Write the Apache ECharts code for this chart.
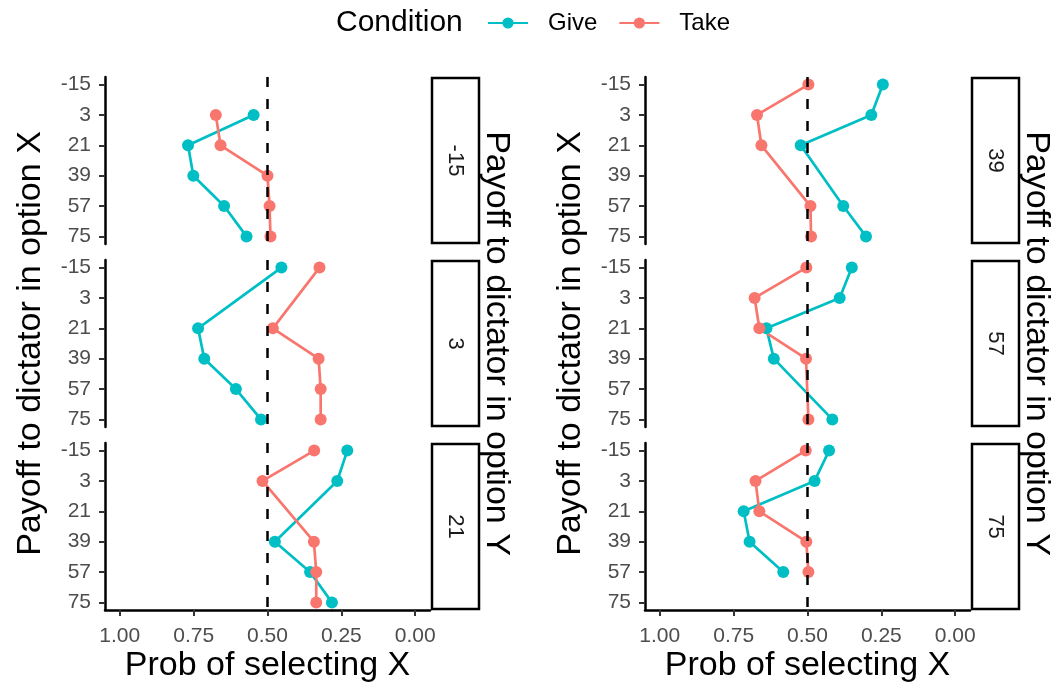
<!DOCTYPE html>
<html>
<head>
<meta charset="utf-8">
<script src="https://cdn.jsdelivr.net/npm/echarts@6/dist/echarts.min.js"></script>
<style>
  html, body { margin: 0; padding: 0; background: #fff; }
  #chart { width: 1055px; height: 688px; }
</style>
</head>
<body>
<div id="chart"></div>
<script>
// payoff to dictator in option X (y axis) and facet values (option Y)
var payoffs = [-15, 3, 21, 39, 57, 75];
var facets = ['-15', '3', '21', '39', '57', '75'];

// prob of selecting X, one value per payoff; null where X == Y
var give_m15 = [null, 0.547, 0.769, 0.751, 0.647, 0.571];
var give_3   = [0.453, null, 0.735, 0.714, 0.607, 0.522];
var give_21  = [0.230, 0.264, null, 0.475, 0.356, 0.282];
var give_39  = [0.245, 0.284, 0.523, null, 0.379, 0.302];
var give_57  = [0.350, 0.391, 0.639, 0.614, null, 0.416];
var give_75  = [0.427, 0.476, 0.716, 0.696, 0.582, null];

var take_m15 = [null, 0.675, 0.659, 0.500, 0.493, 0.490];
var take_3   = [0.324, null, 0.482, 0.327, 0.320, 0.320];
var take_21  = [0.342, 0.517, null, 0.343, 0.335, 0.335];
var take_39  = [0.497, 0.671, 0.656, null, 0.490, 0.488];
var take_57  = [0.504, 0.679, 0.663, 0.505, null, 0.497];
var take_75  = [0.506, 0.676, 0.663, 0.504, 0.497, null];

var giveAll = [give_m15, give_3, give_21, give_39, give_57, give_75];
var takeAll = [take_m15, take_3, take_21, take_39, take_57, take_75];

var FONT = "'Liberation Sans', Arial, sans-serif";
var GIVE = '#00BFC4', TAKE = '#F8766D';

var colLeft = [105, 645];
var rowTop = [77, 260, 443];
var panelW = 325, panelH = 167;

// ggplot-style expanded ranges
var X_LO = -0.05, X_HI = 1.05, Y_LO = -19.5, Y_HI = 79.5;

function pts(arr) {
    var out = [];
    arr.forEach(function (v, i) {
        if (v !== null) out.push([v, payoffs[i]]);
    });
    return out;
}

function buildOption(full) {
    var grids = [], xAxes = [], yAxes = [], series = [], graphics = [];
    var lab = { fontSize: 21, color: '#4D4D4D', fontFamily: FONT };
    var tick = { color: '#333', width: 2 };
    var line = { color: '#000', width: 2.5 };
    var hiddenCat = { type: 'category', data: [''], show: false };

    // frame grids 0..5 : full panel, axis lines + data
    for (var k = 0; k < 6; k++) {
        var col = Math.floor(k / 3), row = k % 3;
        var left = colLeft[col], top = rowTop[row], bottom = row === 2;
        grids.push({ left: left, top: top, width: panelW, height: panelH });
        xAxes.push({
            type: 'value', gridIndex: k, inverse: true, min: X_LO, max: X_HI,
            axisLine: { show: bottom, onZero: false, lineStyle: line },
            axisTick: { show: false }, axisLabel: { show: false }, splitLine: { show: false }
        });
        yAxes.push({
            type: 'value', gridIndex: k, inverse: true, min: Y_LO, max: Y_HI,
            axisLine: { show: true, onZero: false, lineStyle: line },
            axisTick: { show: false }, axisLabel: { show: false }, splitLine: { show: false }
        });

        series.push({
            name: 'Give', type: 'line', xAxisIndex: k, yAxisIndex: k,
            data: pts(giveAll[k]),
            color: GIVE, symbol: 'circle', symbolSize: 12,
            lineStyle: { width: 2.7 },
            markLine: {
                silent: true, symbol: 'none',
                label: { show: false },
                lineStyle: { color: '#000', width: 2.5, type: [10, 12] },
                data: [{ xAxis: 0.5 }]
            }
        });
        series.push({
            name: 'Take', type: 'line', xAxisIndex: k, yAxisIndex: k,
            data: pts(takeAll[k]),
            color: TAKE, symbol: 'circle', symbolSize: 12,
            lineStyle: { width: 2.7 }
        });

        // facet strip
        var sx = left + panelW + 2, sy = top + 1, sw = 47, sh = panelH - 2;
        graphics.push({
            type: 'rect', shape: { x: sx, y: sy, width: sw, height: sh },
            style: { fill: '#fff', stroke: '#000', lineWidth: 2.5 }
        });
        graphics.push({
            type: 'text', x: sx + sw / 2, y: sy + sh / 2, rotation: -Math.PI / 2,
            style: { text: facets[k], fontSize: 22, fill: '#1A1A1A', fontFamily: FONT, align: 'center', verticalAlign: 'middle' }
        });
    }

    if (full) {
        // tick grids: each spans exactly the tick range along its axis,
        // paired with a hidden category axis so the tick axis stays on the frame edge
        var padX = panelW * (0 - X_LO) / (X_HI - X_LO);
        var innerW = panelW * 1 / (X_HI - X_LO);
        var padY = panelH * (-15 - Y_LO) / (Y_HI - Y_LO);
        var innerH = panelH * 90 / (Y_HI - Y_LO);
        for (var j = 0; j < 6; j++) {
            var c = Math.floor(j / 3), r = j % 3;
            var g = grids.length;
            grids.push({ left: colLeft[c], top: rowTop[r] + padY, width: panelW, height: innerH });
            xAxes.push(Object.assign({ gridIndex: g }, hiddenCat));
            yAxes.push({
                type: 'value', gridIndex: g, inverse: true, min: -15, max: 75, interval: 18,
                axisLine: { show: false },
                axisTick: { show: true, length: 6, lineStyle: tick },
                axisLabel: Object.assign({ margin: 14,
                    formatter: function (v) { return String(v); } }, lab),
                splitLine: { show: false }
            });
        }
        for (var b = 0; b < 2; b++) {
            var gb = grids.length;
            grids.push({ left: colLeft[b] + padX, top: rowTop[2], width: innerW, height: panelH });
            yAxes.push(Object.assign({ gridIndex: gb }, hiddenCat));
            xAxes.push({
                type: 'value', gridIndex: gb, inverse: true, min: 0, max: 1, interval: 0.25,
                axisLine: { show: false },
                axisTick: { show: true, length: 6, lineStyle: tick },
                axisLabel: Object.assign({ margin: 16,
                    formatter: function (v) { return v.toFixed(2); } }, lab),
                splitLine: { show: false }
            });
        }
    } else {
        graphics.push({ type: 'text', x: 5, y: 5, style: { text: 'FALLBACK', fontSize: 14, fill: '#f00' } });
    }

    // titles: x title under each column, y-axis title on the left, strip title on the right
    [0, 1].forEach(function (col) {
        var cy = (rowTop[0] + rowTop[2] + panelH) / 2;
        graphics.push({
            type: 'text', x: colLeft[col] + panelW / 2, y: 666,
            style: { text: 'Prob of selecting X', fontSize: 34, fill: '#000', fontFamily: FONT, align: 'center', verticalAlign: 'middle' }
        });
        graphics.push({
            type: 'text', x: colLeft[col] - 74, y: cy, rotation: Math.PI / 2,
            style: { text: 'Payoff to dictator in option X', fontSize: 34, fill: '#000', fontFamily: FONT, align: 'center', verticalAlign: 'middle' }
        });
        graphics.push({
            type: 'text', x: colLeft[col] + 391, y: cy, rotation: -Math.PI / 2,
            style: { text: 'Payoff to dictator in option Y', fontSize: 34, fill: '#000', fontFamily: FONT, align: 'center', verticalAlign: 'middle' }
        });
    });

    return {
        backgroundColor: '#fff',
        animation: false,
        title: {
            text: 'Condition', left: 336, top: 8, padding: 0,
            textStyle: { fontSize: 30, fontWeight: 'normal', color: '#000', fontFamily: FONT }
        },
        legend: {
            data: ['Give', 'Take'], left: 487, top: 11, padding: 0,
            itemWidth: 40, itemHeight: 14, itemGap: 21,
            textStyle: { fontSize: 24, color: '#000', fontFamily: FONT, padding: [0, 0, 0, 15] }
        },
        grid: grids,
        xAxis: xAxes,
        yAxis: yAxes,
        series: series,
        graphic: graphics
    };
}

var chart = echarts.init(document.getElementById('chart'));
try {
    chart.setOption(buildOption(true));
} catch (e) {
    chart.dispose();
    chart = echarts.init(document.getElementById('chart'));
    chart.setOption(buildOption(false));
}
</script>
</body>
</html>
